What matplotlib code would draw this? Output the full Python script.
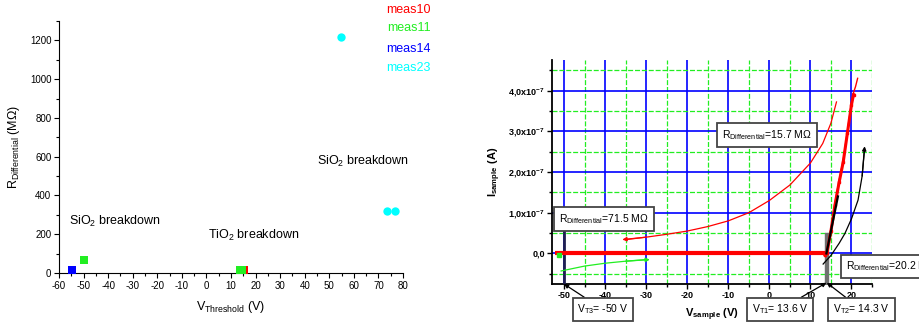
import numpy as np
import matplotlib
matplotlib.use("Agg")
import matplotlib.pyplot as plt
from matplotlib.ticker import MultipleLocator, FixedLocator

plt.rcParams['font.family'] = ['Liberation Sans', 'DejaVu Sans']
plt.rcParams['mathtext.default'] = 'regular'
plt.rcParams['axes.unicode_minus'] = False

# --- left panel data: threshold voltage vs differential resistance ---
series_names = ['meas10', 'meas11', 'meas14', 'meas23']
series_colors = ['#ff0000', '#22ee22', '#0000ff', '#00ffff']
series_markers = ['s', 's', 's', 'o']
v_threshold = [[15.4], [-49.8, 13.5, 14.3], [-54.6], [54.8, 73.3, 76.9]]
r_differential = [[17], [69, 17, 17], [15], [1219, 318, 318]]

# --- right panel data: I-V curve ---
flat_v = [-52.2, 13.6]
flat_i = [0.0, 0.0]
steep_v = [13.6, 14.0, 15.0, 16.0, 17.0, 18.0, 19.0, 20.0, 20.5, 21.0, 21.5]
steep_i = [0.0, 0.05, 0.6, 1.25, 1.8, 2.3, 3.0, 3.7, 3.95, 4.1, 4.3]
fit157_v = [-35, -30, -25, -20, -15, -10, -5, 0, 5, 10, 13, 15, 16.35]
fit157_i = [0.34, 0.40, 0.47, 0.55, 0.66, 0.80, 1.0, 1.30, 1.68, 2.22, 2.7, 3.2, 3.72]
fit715_v = [-50.7, -45, -40, -35, -29.9]
fit715_i = [-0.43, -0.31, -0.24, -0.19, -0.15]
fit202_v = [13.1, 15, 17, 18.4, 20, 21.6, 22.6, 23.2]
fit202_i = [-0.26, -0.05, 0.25, 0.49, 0.85, 1.31, 1.9, 2.58]
slope_v = [13.9, 16.7]
slope_i = [0.0, 1.4]
vt1, vt2, vt3 = 13.6, 14.3, -50.0
yticks_right = [0, 1, 2, 3, 4]
ytick_labels = ['0,0', '1,0x10$^{-7}$', '2,0x10$^{-7}$', '3,0x10$^{-7}$', '4,0x10$^{-7}$']

W, H = 920, 322
fig = plt.figure(figsize=(W / 100, H / 100), dpi=100)

# ===== left panel =====
ax1 = fig.add_axes([59 / W, (H - 273) / H, 344 / W, 252 / H])
for name, c, m, xs, ys in zip(series_names, series_colors, series_markers, v_threshold, r_differential):
    ax1.plot(xs, ys, linestyle='none', marker=m, color=c, markersize=5.5 if m == 's' else 6,
             markeredgewidth=0, clip_on=False, zorder=3)
ax1.set_xlim(-60, 80)
ax1.set_ylim(0, 1300)
ax1.xaxis.set_major_locator(MultipleLocator(10))
ax1.xaxis.set_minor_locator(MultipleLocator(5))
ax1.yaxis.set_major_locator(FixedLocator([0, 200, 400, 600, 800, 1000, 1200]))
ax1.yaxis.set_minor_locator(MultipleLocator(100))
ax1.spines['top'].set_visible(False)
ax1.spines['right'].set_visible(False)
ax1.tick_params(which='major', direction='out', length=3.5, width=0.8, labelsize=7, pad=2)
ax1.tick_params(which='minor', direction='out', length=2, width=0.8)
ax1.set_xlabel('V$_{Threshold}$ (V)', fontsize=9, labelpad=6)
ax1.set_ylabel('R$_{Differential}$ (M\u03a9)', fontsize=9, labelpad=6)

ax1.text(-56, 268, 'SiO$_2$ breakdown', fontsize=9, va='center')
ax1.text(0.6, 196, 'TiO$_2$ breakdown', fontsize=9, va='center')
ax1.text(45, 577, 'SiO$_2$ breakdown', fontsize=9, va='center')

legend_y = [10, 28, 49, 68]
for name, c, ly in zip(series_names, series_colors, legend_y):
    fig.text(431 / W, (H - ly) / H, name, color=c, fontsize=9, ha='right', va='center')

# ===== right panel =====
ax2 = fig.add_axes([551.7 / W, (H - 284) / H, 320.3 / W, 224 / H])
ax2.set_xlim(-53, 25)
ax2.set_ylim(-0.75, 4.75)
ax2.xaxis.set_major_locator(MultipleLocator(10))
ax2.xaxis.set_minor_locator(MultipleLocator(5))
ax2.yaxis.set_major_locator(FixedLocator(yticks_right))
ax2.yaxis.set_minor_locator(MultipleLocator(0.5))
ax2.set_yticklabels(ytick_labels)
ax2.grid(True, which='major', color='#0000ff', linewidth=1.2, zorder=0)
ax2.grid(True, which='minor', color='#22ee22', linewidth=0.9, linestyle=(0, (4, 1.5)), zorder=0)
ax2.set_axisbelow(True)
for s in ['top', 'right']:
    ax2.spines[s].set_visible(False)
for s in ['left', 'bottom']:
    ax2.spines[s].set_linewidth(1.3)
ax2.tick_params(which='major', direction='out', length=3.5, width=1, labelsize=6.5, pad=1.5)
ax2.tick_params(which='minor', direction='out', length=2, width=1)
for lab in ax2.get_xticklabels() + ax2.get_yticklabels():
    lab.set_fontweight('bold')
ax2.set_xlabel('V$_{sample}$ (V)', fontsize=8, fontweight='bold', labelpad=5)
ax2.set_ylabel('I$_{sample}$ (A)', fontsize=8, fontweight='bold', labelpad=4)

# markers of threshold region
ax2.fill_between([vt1, vt2], [-0.75, -0.75], [0.5, 0.5], color='#707070', zorder=3)
ax2.plot([vt3, vt3], [-0.75, 0.57], color='#202050', linewidth=2, zorder=3)

# measured data
ax2.plot(flat_v, flat_i, color='#ff0000', linewidth=3, zorder=4, solid_capstyle='butt')
ax2.plot(steep_v, steep_i, color='#ff0000', linewidth=1.0, zorder=4)
ax2.plot(steep_v[:-2], [v - 0.05 for v in steep_i[:-2]], color='#ff0000', linewidth=2.2,
         marker='s', markersize=2, zorder=4)
ax2.plot([-51.3], [-0.04], marker='s', color='#22ee22', markersize=3, zorder=4)

# fits
ax2.plot(fit157_v, fit157_i, color='#ff0000', linewidth=0.9, zorder=5)
ax2.annotate('', xy=(fit157_v[0] - 0.8, fit157_i[0]), xytext=(fit157_v[1], fit157_i[1]),
             arrowprops=dict(arrowstyle='-|>', color='#ff0000', lw=0.9, mutation_scale=6,
                             shrinkA=0, shrinkB=0), zorder=5)
ax2.plot(fit715_v, fit715_i, color='#22ee22', linewidth=0.9, zorder=5)
ax2.annotate('', xy=(fit715_v[-1] + 0.8, fit715_i[-1]), xytext=(fit715_v[-2], fit715_i[-2]),
             arrowprops=dict(arrowstyle='-|>', color='#22ee22', lw=0.9, mutation_scale=6,
                             shrinkA=0, shrinkB=0), zorder=5)
ax2.plot(fit202_v, fit202_i, color='black', linewidth=0.9, zorder=5)
ax2.annotate('', xy=(fit202_v[-1], fit202_i[-1] + 0.05), xytext=(fit202_v[-2], fit202_i[-2]),
             arrowprops=dict(arrowstyle='-|>', color='black', lw=0.9, mutation_scale=6,
                             shrinkA=0, shrinkB=0), zorder=5)
ax2.plot(slope_v, slope_i, color='black', linewidth=1.6, zorder=5)

# annotation boxes
box = dict(boxstyle='square,pad=0.45', facecolor='white', edgecolor='#444444', linewidth=1.3)
arrow = dict(arrowstyle='-|>', color='black', lw=0.9, mutation_scale=6, shrinkA=0, shrinkB=0)


def fig_px(x, y):
    return (x / W, (H - y) / H)


ax2.annotate('R$_{Differential}$=71.5 M\u03a9', xy=fig_px(604, 219), xycoords='figure fraction',
             fontsize=7.5, ha='center', va='center', bbox=box, zorder=6)
ax2.annotate('R$_{Differential}$=15.7 M\u03a9', xy=fig_px(767, 135), xycoords='figure fraction',
             fontsize=7.5, ha='center', va='center', bbox=box, zorder=6)
ax2.annotate('R$_{Differential}$=20.2 M\u03a9', xy=fig_px(846, 266.5), xycoords='figure fraction',
             fontsize=7.5, ha='left', va='center', bbox=box, zorder=6, annotation_clip=False)
ax2.annotate('V$_{T3}$= -50 V', xy=(vt3, -0.75), xytext=fig_px(603, 309.5),
             textcoords='figure fraction', fontsize=7.5, ha='center', va='center',
             bbox=box, arrowprops=arrow, annotation_clip=False, zorder=6)
ax2.annotate('V$_{T1}$= 13.6 V', xy=(vt1 + 0.3, -0.72), xytext=fig_px(780, 309.5),
             textcoords='figure fraction', fontsize=7.5, ha='center', va='center',
             bbox=box, arrowprops=arrow, annotation_clip=False, zorder=6)
ax2.annotate('V$_{T2}$= 14.3 V', xy=(vt2 - 0.3, -0.72), xytext=fig_px(861.5, 309.5),
             textcoords='figure fraction', fontsize=7.5, ha='center', va='center',
             bbox=box, arrowprops=arrow, annotation_clip=False, zorder=6)

fig.savefig('out.png', dpi=100)
